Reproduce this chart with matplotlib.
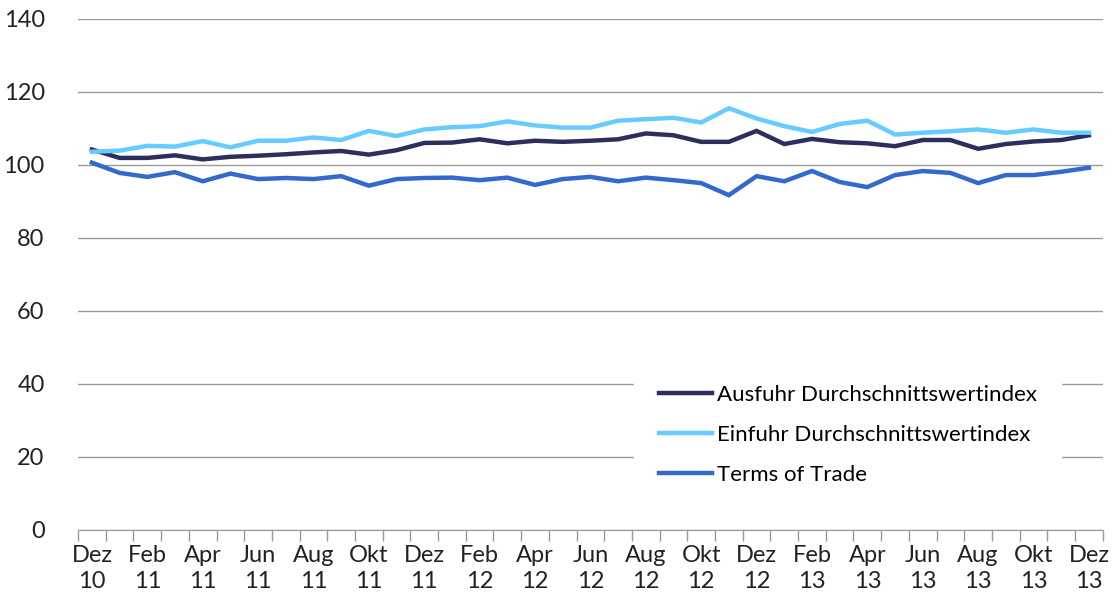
import matplotlib
matplotlib.use("Agg")
import matplotlib.pyplot as plt
import numpy as np

# ── Data (monthly, Dez 10 – Dez 13) ─────────────────────────────
months = ["Dez", "Jan", "Feb", "Mrz", "Apr", "Mai", "Jun", "Jul", "Aug", "Sep", "Okt", "Nov"] * 3 + ["Dez"]
years = ["10"] + ["11"] * 12 + ["12"] * 12 + ["13"] * 12

ausfuhr = [104.2, 101.9, 101.9, 102.6, 101.5, 102.2, 102.5, 102.9, 103.4, 103.8, 102.8, 104.0,
           106.0, 106.1, 107.0, 105.9, 106.6, 106.3, 106.6, 107.0, 108.6, 108.1, 106.3, 106.3,
           109.3, 105.7, 107.1, 106.2, 105.9, 105.1, 106.8, 106.8, 104.4, 105.7, 106.4, 106.8,
           108.1]
einfuhr = [103.6, 103.9, 105.2, 105.0, 106.5, 104.8, 106.6, 106.6, 107.5, 106.8, 109.3, 107.9,
           109.7, 110.3, 110.6, 111.9, 110.8, 110.2, 110.2, 112.1, 112.5, 112.9, 111.6, 115.5,
           112.7, 110.6, 109.0, 111.2, 112.1, 108.3, 108.8, 109.2, 109.7, 108.8, 109.7, 108.8,
           108.8]
terms_of_trade = [100.6, 97.8, 96.7, 98.0, 95.5, 97.6, 96.1, 96.4, 96.1, 96.9, 94.3, 96.1,
                  96.4, 96.5, 95.8, 96.5, 94.5, 96.1, 96.7, 95.5, 96.5, 95.8, 95.0, 91.7,
                  96.9, 95.5, 98.3, 95.3, 93.9, 97.2, 98.3, 97.8, 95.0, 97.2, 97.2, 98.1,
                  99.2]

series_names = ["Ausfuhr Durchschnittswertindex", "Einfuhr Durchschnittswertindex", "Terms of Trade"]
colors = ["#2D2E5E", "#66CCFF", "#3368CC"]

plt.rcParams["font.family"] = ["Lato", "DejaVu Sans"]

fig = plt.figure(figsize=(11.15, 6.07), dpi=100)
ax = fig.add_axes([0.070, 0.127, 0.919, 0.842])

x = np.arange(len(months))
for vals, name, c in zip([ausfuhr, einfuhr, terms_of_trade], series_names, colors):
    ax.plot(x, vals, color=c, lw=3.2, label=name, solid_joinstyle="miter")

ax.set_ylim(0, 140)
ax.set_yticks(range(0, 141, 20))
ax.set_xlim(-0.5, len(months) - 0.5)

ax.grid(axis="y", color="#9a9a9a", lw=1)
ax.set_axisbelow(True)
for s in ["top", "right", "left"]:
    ax.spines[s].set_visible(False)
ax.spines["bottom"].set_color("#9a9a9a")

# category boundary ticks, labels every 2nd month
ax.set_xticks(np.arange(-0.5, len(months)), minor=True)
ax.set_xticks(x[::2])
ax.set_xticklabels([f"{m}\n{y}" for m, y in zip(months[::2], years[::2])])
ax.tick_params(axis="x", which="minor", length=8, color="#9a9a9a", width=1)
ax.tick_params(axis="x", which="major", length=0, pad=11, labelsize=17, colors="#222222")
ax.tick_params(axis="y", length=0, pad=24, labelsize=17, colors="#222222")
for lab in ax.get_xticklabels():
    lab.set_linespacing(1.3)

leg = ax.legend(loc="upper left", bbox_to_anchor=(0.543, 0.332), borderaxespad=0,
                frameon=True, fontsize=16, handlelength=2.4, handletextpad=0.2,
                labelspacing=0.9, borderpad=1.1, fancybox=False)
leg.get_frame().set_facecolor("white")
leg.get_frame().set_edgecolor("white")
leg.get_frame().set_alpha(1.0)

plt.savefig("out.png", dpi=100)
